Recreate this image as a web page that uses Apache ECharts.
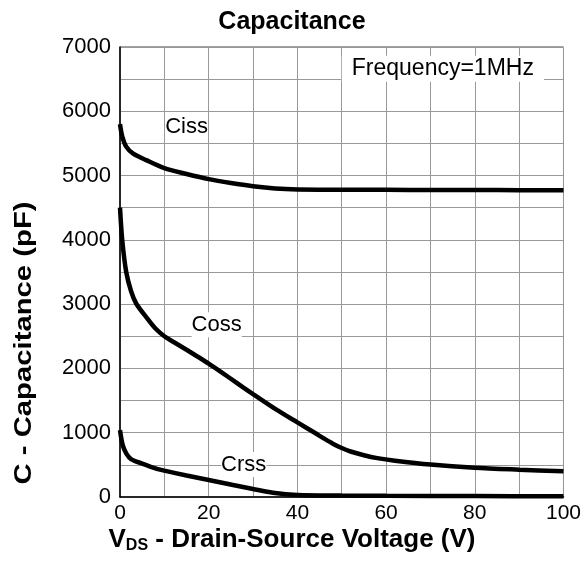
<!DOCTYPE html>
<html>
<head>
<meta charset="utf-8">
<script src="https://cdn.jsdelivr.net/npm/echarts@6/dist/echarts.min.js"></script>
<style>
  html, body { margin: 0; padding: 0; background: #fff; }
  #chart { width: 584px; height: 568px; }
</style>
</head>
<body>
<div id="chart"></div>
<script>
// curves: [V_DS (V), C (pF)]
var cissData = [[0, 5800], [0.5, 5610], [1.4, 5450], [2.9, 5345], [5.9, 5240], [10, 5115],
  [15, 5025], [20, 4945], [25, 4885], [30, 4835], [35, 4800], [40, 4785], [50, 4778],
  [60, 4778], [70, 4776], [80, 4775], [90, 4773], [100, 4770]];
var cossData = [[0, 4500], [0.5, 4000], [1.4, 3500], [2.5, 3200], [3.65, 3010], [6, 2790],
  [8, 2620], [10, 2500], [12, 2415], [15, 2290], [17, 2205], [20, 2075], [23, 1935],
  [26, 1790], [30, 1600], [35, 1370], [40, 1160], [44, 995], [46, 910], [48, 830],
  [50, 762], [52, 708], [55, 650], [58, 605], [62, 565], [70, 505], [80, 455],
  [90, 425], [100, 400]];
var crssData = [[0, 1040], [0.6, 810], [1.4, 680], [2.5, 590], [5, 520], [8, 445],
  [10, 410], [15, 335], [20, 265], [25.5, 187], [30, 125], [34.5, 67], [40, 32],
  [50, 22], [60, 18], [80, 14], [100, 10]];
var seriesNames = ['Ciss', 'Coss', 'Crss'];
// where the curve names sit, in data units
var nameSpots = [[15, 5755], [21.8, 2680], [27.9, 505]];
var noteText = 'Frequency=1MHz';
var noteSpot = [72.8, 6660];

var font = '"Liberation Sans", Arial, sans-serif';
var chart = echarts.init(document.getElementById('chart'));

var allData = [cissData, cossData, crssData];
var series = [];
for (let i = 0; i < 3; i++) {
  series.push({
    name: seriesNames[i],
    type: 'line',
    data: allData[i],
    smooth: 0.3,
    showSymbol: false,
    lineStyle: { color: '#000', width: 4.5 },
    markPoint: {
      symbol: 'rect',
      symbolSize: 0.1,
      label: {
        show: true, position: 'inside', color: '#000',
        fontFamily: font, fontSize: 22,
        backgroundColor: '#fff', padding: [3, 0, 0, 0],
        formatter: seriesNames[i]
      },
      data: [{ coord: nameSpots[i] }]
    },
    z: 3
  });
}
// frequency note with white box over the grid
series.push({
  type: 'scatter',
  data: [noteSpot],
  symbolSize: 0.1,
  itemStyle: { opacity: 1 },
  label: {
    show: true, position: 'inside', color: '#000',
    fontFamily: font, fontSize: 23,
    backgroundColor: '#fff',
    padding: [2, 10, 1, 10],
    formatter: noteText
  },
  z: 4
});

var option = {
  animation: false,
  textStyle: { fontFamily: font },
  title: [{
    text: 'Capacitance',
    left: 'center',
    top: 5,
    textStyle: { fontFamily: font, fontSize: 25, fontWeight: 'bold', color: '#000' }
  }, {
    // x axis name, centred on the page like the reference
    text: '{a|V}{b|DS}{a| - Drain-Source Voltage (V)}',
    left: 'center',
    top: 521,
    textStyle: {
      rich: {
        a: { fontFamily: font, fontSize: 26, fontWeight: 'bold', color: '#000' },
        b: { fontFamily: font, fontSize: 16, fontWeight: 'bold', color: '#000', verticalAlign: 'bottom', padding: [12, 0, 0, 0] }
      }
    }
  }],
  graphic: [{
    type: 'text',
    x: 24,
    y: 343,
    rotation: Math.PI / 2,
    scaleX: 1.22,
    style: {
      text: 'C - Capacitance (pF)',
      fontFamily: font, fontSize: 24, fontWeight: 'bold', fill: '#000',
      align: 'center', verticalAlign: 'middle'
    }
  }],
  grid: {
    left: 120, right: 20, top: 47, bottom: 71,
    show: true, borderColor: '#444', borderWidth: 1
  },
  xAxis: {
    type: 'value',
    min: 0, max: 100, interval: 10,
    axisLine: { show: true, lineStyle: { color: '#000', width: 1.5 } },
    axisTick: { show: false },
    splitLine: { show: true, lineStyle: { color: '#999', width: 1 } },
    axisLabel: {
      color: '#000', fontSize: 21, fontFamily: font, margin: 6,
      formatter: function (v) { return v % 20 === 0 ? v : ''; }
    }
  },
  yAxis: {
    type: 'value',
    min: 0, max: 7000, interval: 500,
    axisLine: { show: true, lineStyle: { color: '#000', width: 1.5 } },
    axisTick: { show: false },
    splitLine: { show: true, lineStyle: { color: '#999', width: 1 } },
    axisLabel: {
      color: '#000', fontSize: 22, fontFamily: font, margin: 9,
      formatter: function (v) { return v % 1000 === 0 ? v : ''; }
    }
  },
  series: series
};
chart.setOption(option);
</script>
</body>
</html>
